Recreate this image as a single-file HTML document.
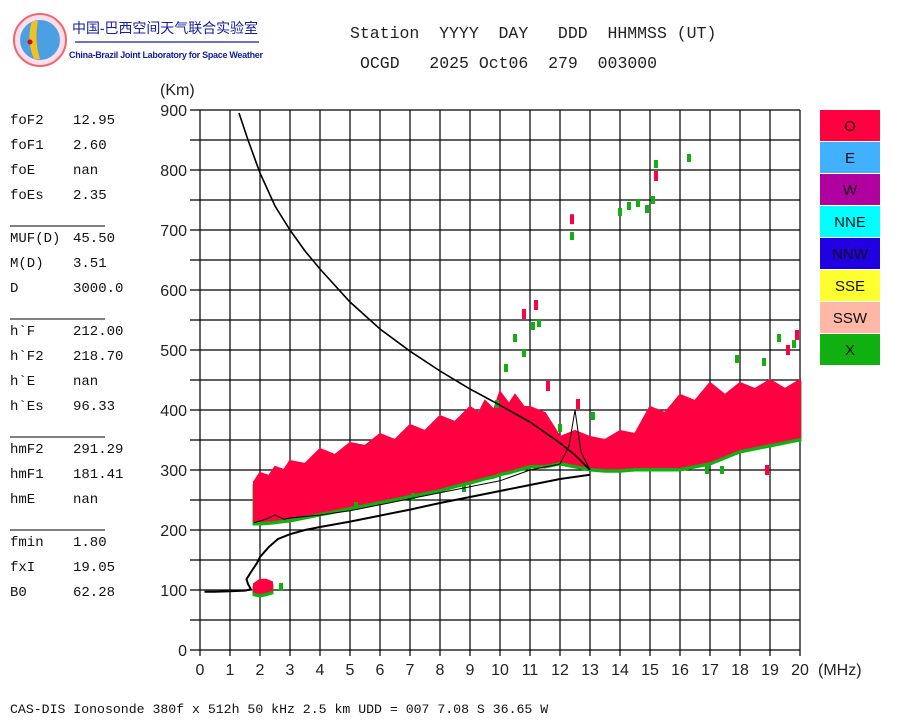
<!DOCTYPE html>
<html><head><meta charset="utf-8"><style>
body{margin:0;background:#fff;width:900px;height:720px;overflow:hidden}
svg{display:block}
.mono{font-family:"Liberation Mono","DejaVu Sans Mono",monospace}
.sans{font-family:"Liberation Sans",sans-serif}
</style></head><body>
<svg id="c" width="900" height="720" xmlns="http://www.w3.org/2000/svg">
<g>
<circle cx="40" cy="40" r="26" fill="#fde" stroke="#e66" stroke-width="2"/>
<circle cx="40" cy="40" r="20" fill="#4aa0e0"/>
<path d="M32 21 Q26 40 34 59 L40 59 Q34 40 38 21Z" fill="#f4c020"/>
<circle cx="30" cy="42" r="2.5" fill="#d00"/>
<text x="72" y="33" font-size="14" textLength="186" fill="#1520a0" font-family="'Liberation Sans','Noto Sans CJK SC',sans-serif">中国-巴西空间天气联合实验室</text>
<line x1="75" y1="42" x2="259" y2="42" stroke="#1520a0" stroke-width="1.2"/>
<text x="69" y="58" font-size="9" font-weight="bold" textLength="194" fill="#1520a0" class="sans">China-Brazil Joint Laboratory for Space Weather</text>
</g>
<text x="350" y="38" font-size="16.5" class="mono" fill="#222" xml:space="preserve">Station  YYYY  DAY   DDD  HHMMSS (UT)</text>
<text x="360" y="68" font-size="16.5" class="mono" fill="#222" xml:space="preserve">OCGD   2025 Oct06  279  003000</text>
<g id="params" class="mono" font-size="14" fill="#111"></g>
<g id="grid"></g>
<g id="marks"></g>
<g id="lines"></g>
<g id="axes" class="sans" font-size="16" fill="#222"></g>
<g id="legend" class="sans" font-size="15"></g>
<text x="10" y="713" font-size="13.2" class="mono" fill="#111">CAS-DIS Ionosonde 380f x 512h 50 kHz 2.5 km UDD = 007 7.08 S 36.65 W</text>
</svg>
<script>
const NS="http://www.w3.org/2000/svg";
// ---- data ----
const xTicks=[0,1,2,3,4,5,6,7,8,9,10,11,12,13,14,15,16,17,18,19,20];
const yTicks=[0,100,200,300,400,500,600,700,800,900];
const bandFreq=[1.8,2,2.3,2.5,2.8,3,3.5,4,4.5,5,5.5,6,6.5,7,7.5,8,8.5,9,9.3,9.5,9.8,10,10.3,10.5,10.8,11,11.5,12,12.5,13,13.5,14,14.5,15,15.5,16,16.5,17,17.5,18,18.5,19,19.5,20];
const bandLow=[210,210,211,212,214,215,220,225,230,235,240,245,250,255,260,265,272,278,282,285,288,292,295,298,302,305,305,310,305,300,298,298,300,300,300,300,305,310,320,330,335,340,345,350];
const bandHigh=[275,290,285,300,295,310,305,330,320,340,335,355,345,370,360,385,375,400,390,410,395,425,405,420,400,400,390,350,360,350,345,360,355,400,390,420,410,440,420,440,430,445,430,445];
const esFreq=[1.8,2.0,2.2,2.4];
const esLow=[92,90,92,95];
const esHigh=[105,112,112,108];
const greenF=[2.7,5.2,7.1,8.8,9.9,10.2,10.5,10.8,11.1,11.3,12.4,14.0,14.3,14.6,14.9,15.1,15.2,16.3,17.9,18.8,19.3,19.8,12.0,13.1,16.9,17.4];
const greenH=[105,240,255,270,410,470,520,495,540,545,690,730,740,745,735,750,810,820,485,480,520,510,370,390,300,300];
const redF=[10.8,11.2,12.4,15.2,19.6,19.9,12.6,11.6,18.9];
const redH=[560,575,718,790,500,525,410,440,300];
const mufF=[1.3,1.6,2,2.5,3,3.5,4,5,6,7,8,9,10,11,12,12.5,13];
const mufH=[895,850,795,740,700,665,635,580,535,498,465,435,408,380,345,325,300];
const trueF=[0.15,0.5,1.0,1.5,1.7,1.6,1.55,1.7,1.9,2.0,2.3,2.6,3,3.5,4,5,6,7,8,9,10,11,12,13];
const trueH=[97,97,98,99,101,110,118,130,145,155,172,185,193,200,205,214,224,234,245,255,265,275,285,292];
const edgeF=[1.8,2.2,2.5,2.8,3,4,5,6,7,8,9,10,11,12,12.3,12.5,12.7,13];
const edgeH=[212,218,225,218,220,225,232,242,252,262,272,282,300,310,340,400,330,300];
const params=[["foF2","12.95"],["foF1","2.60"],["foE","nan"],["foEs","2.35"],null,["MUF(D)","45.50"],["M(D)"," 3.51"],["D","3000.0"],null,["h`F","212.00"],["h`F2","218.70"],["h`E","nan"],["h`Es","96.33"],null,["hmF2","291.29"],["hmF1","181.41"],["hmE","nan"],null,["fmin","1.80"],["fxI","19.05"],["B0","62.28"]];
const legendNames=["O","E","W","NNE","NNW","SSE","SSW","X"];
const legendColors=["#ff0040","#40b0ff","#b000a0","#00ffff","#2000e0","#ffff30","#ffb8a8","#10b010"];
// ---- scales ----
const X=f=>200+f*30, Y=h=>650-h*0.6;
function el(t,a,p){const e=document.createElementNS(NS,t);for(const k in a)e.setAttribute(k,a[k]);p.appendChild(e);return e;}
const grid=document.getElementById('grid');
for(let h=0;h<=900;h+=50){const l=el('line',{x1:190,x2:800,y1:Y(h),y2:Y(h),stroke:'#000','stroke-width':1.2},grid);

}
for(const f of xTicks){const l=el('line',{x1:X(f),x2:X(f),y1:110,y2:656,stroke:'#000','stroke-width':1.2},grid);

}
const axes=document.getElementById('axes');
for(const h of yTicks){const t=el('text',{x:187,y:Y(h)+6,'text-anchor':'end'},axes);t.textContent=h;

}
for(const f of xTicks){const t=el('text',{x:X(f),y:675,'text-anchor':'middle'},axes);t.textContent=f;

}
let t=el('text',{x:818,y:675},axes);t.textContent='(MHz)';


t=el('text',{x:160,y:95},axes);t.textContent='(Km)';


const marks=document.getElementById('marks');
function band(F,L,H,name){let d='M'+F.map((f,i)=>X(f)+','+Y(H[i])).join('L');
d+='L'+F.slice().reverse().map((f,i)=>X(f)+','+Y(L[L.length-1-i])).join('L')+'Z';
const g=el('path',{d:d,fill:'#10b010',stroke:'#10b010','stroke-width':3},marks);


const p=el('path',{d:d,fill:'#ff0040',stroke:'#ff0040','stroke-width':2,transform:'translate(0,-3)'},marks);

}
band(bandFreq,bandLow,bandHigh,'f-layer-echo-band');
band(esFreq,esLow,esHigh,'es-layer-echo');
greenF.forEach((f,i)=>{const r=el('rect',{x:X(f)-2,y:Y(greenH[i])-4,width:4,height:8,fill:'#10b010'},marks);

});
redF.forEach((f,i)=>{const r=el('rect',{x:X(f)-2,y:Y(redH[i])-5,width:4,height:10,fill:'#ff0040'},marks);

});
const lines=document.getElementById('lines');
function pl(F,H,w,name){const p=el('polyline',{points:F.map((f,i)=>X(f)+','+Y(H[i])).join(' '),fill:'none',stroke:'#000','stroke-width':w},lines);

}
pl(mufF,mufH,1.6,'muf-curve');
pl(trueF,trueH,2,'true-height-profile');
pl(edgeF,edgeH,1,'trace-leading-edge');
const pg=document.getElementById('params');let y=124;
params.forEach(p=>{if(!p){const l=el('line',{x1:10,x2:105,y1:y+2,y2:y+2,stroke:'#000'},pg);

y+=18;return;}
const a=el('text',{x:10,y:y},pg);a.textContent=p[0];


const b=el('text',{x:p[1].length>6?67:73,y:y,'xml:space':'preserve'},pg);b.textContent=p[1];

y+=25;});
const lg=document.getElementById('legend');
legendNames.forEach((n,i)=>{const r=el('rect',{x:820,y:110+i*32,width:60,height:31,fill:legendColors[i]},lg);


const tx=el('text',{x:850,y:110+i*32+21,'text-anchor':'middle',fill:'#111'},lg);tx.textContent=n;

});
</script>
</body></html>
